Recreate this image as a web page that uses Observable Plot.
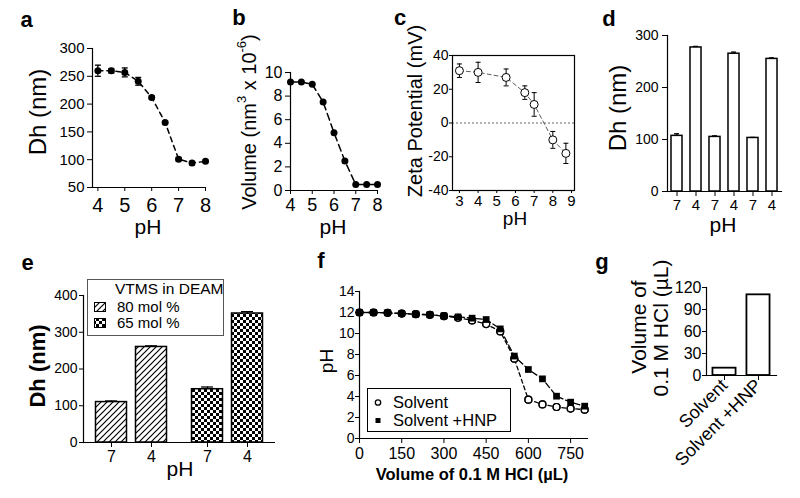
<!DOCTYPE html>
<html><head><meta charset="utf-8">
<script src="https://cdn.jsdelivr.net/npm/d3@7"></script>
<script src="https://cdn.jsdelivr.net/npm/@observablehq/plot@0.6"></script>
<style>
body{margin:0;background:#fff;}
#root{position:relative;width:800px;height:498px;overflow:hidden;background:#fff;font-family:"Liberation Sans",Arial,sans-serif;}
#root > svg{position:absolute;}
</style></head><body><div id="root"></div>
<script>
// ---------- data ----------
const aPH = [4, 4.5, 5, 5.5, 6, 6.5, 7, 7.5, 8];
const aDh = [260, 260, 257, 241, 212, 167, 101, 94, 97];
const aErr = [10, 4, 8, 7, 3, 2, 3, 3, 2];
const aYTicks = [50, 100, 150, 200, 250, 300];
const aXTicks = [4, 5, 6, 7, 8];

const bPH = [4, 4.5, 5, 5.5, 6, 6.5, 7, 7.5, 8];
const bVol = [9.2, 9.2, 9.0, 7.5, 4.9, 2.5, 0.5, 0.5, 0.5];
const bYTicks = [0, 2, 4, 6, 8, 10];
const bXTicks = [4, 5, 6, 7, 8];

const cPH = [3, 4, 5.5, 6.5, 7, 8, 8.7];
const cZeta = [31, 30, 27, 18, 11, -10, -18];
const cErr = [4, 6, 5, 4, 7, 5, 6];
const cYTicks = [-40, -20, 0, 20, 40];
const cXTicks = [3, 4, 5, 6, 7, 8, 9];

const dPH = ["7", "4", "7", "4", "7", "4"];
const dDh = [107, 277, 105, 265, 103, 255];
const dErr = [4, 2, 2, 3, 1, 2];
const dYTicks = [0, 100, 200, 300];

const eGroups = ["80 mol %", "65 mol %"];
const ePH = ["7", "4"];
const eDh80 = [110, 260];
const eDh65 = [145, 351];
const eErr80 = [3, 3];
const eErr65 = [6, 5];
const eYTicks = [0, 100, 200, 300, 400];

const fVol = [0, 50, 100, 150, 200, 250, 300, 350, 400, 450, 500, 550, 600, 650, 700, 750, 800];
const fSolvent = [12.0, 12.0, 11.97, 11.9, 11.84, 11.78, 11.65, 11.5, 11.25, 10.9, 10.2, 7.6, 3.7, 3.25, 3.0, 2.85, 2.75];
const fHNP = [12.0, 12.0, 11.97, 11.9, 11.84, 11.78, 11.68, 11.58, 11.46, 11.33, 10.44, 7.85, 6.57, 5.68, 4.03, 3.46, 3.08];
const fYTicks = [0, 2, 4, 6, 8, 10, 12, 14];
const fXTicks = [0, 150, 300, 450, 600, 750];

const gCat = ["Solvent", "Solvent +HNP"];
const gVol = [10, 110];
const gYTicks = [0, 30, 60, 90, 120];

// ---------- helpers ----------
const FONT = '"Liberation Sans", Arial, sans-serif';
const root = document.getElementById("root");
const fmt = d => String(d);
const capSym = {draw(ctx, size) { const w = Math.sqrt(size / Math.PI); ctx.moveTo(-w, 0); ctx.lineTo(w, 0); }};
function base(o) {
  return Object.assign({style: {fontFamily: FONT, fontSize: "14px", background: "none", overflow: "visible", color: "#000"}}, o);
}
function place(el, left, top) { el.style.left = left + "px"; el.style.top = top + "px"; root.append(el); }

// ---------- panel a ----------
const aData = aPH.map((x, i) => ({x, y: aDh[i], lo: aDh[i] - aErr[i], hi: aDh[i] + aErr[i]}));
place(Plot.plot(base({
  width: 220, height: 240, marginLeft: 92, marginRight: 15, marginTop: 48, marginBottom: 53,
  x: {domain: [3.8, 8]}, y: {domain: [50, 300]},
  marks: [
    Plot.axisY({ticks: aYTicks, tickSize: 5, tickPadding: 3, fontSize: 15, label: null, tickFormat: fmt}),
    Plot.axisX({ticks: aXTicks, tickSize: 4, tickPadding: 6, fontSize: 20, label: null, tickFormat: fmt}),
    Plot.frame({anchor: "left", strokeWidth: 1.2}),
    Plot.frame({anchor: "bottom", strokeWidth: 1.2}),
    Plot.line(aData, {x: "x", y: "y", strokeWidth: 1.5, strokeDasharray: "5,4"}),
    Plot.ruleX(aData, {x: "x", y1: "lo", y2: "hi", strokeWidth: 1.3}),
    Plot.dot(aData, {x: "x", y: "hi", symbol: capSym, r: 3, stroke: "black", fill: "none", strokeWidth: 1.3}),
    Plot.dot(aData, {x: "x", y: "lo", symbol: capSym, r: 3, stroke: "black", fill: "none", strokeWidth: 1.3}),
    Plot.dot(aData, {x: "x", y: "y", r: 3.5, fill: "black"})
  ]
})), 0, 0);

// ---------- panel b ----------
const bData = bPH.map((x, i) => ({x, y: bVol[i]}));
place(Plot.plot(base({
  width: 160, height: 240, marginLeft: 70, marginRight: 3, marginTop: 72, marginBottom: 50,
  x: {domain: [4, 8]}, y: {domain: [0, 10]},
  marks: [
    Plot.axisY({ticks: bYTicks, tickSize: 5, tickPadding: 3, fontSize: 16, label: null, tickFormat: fmt}),
    Plot.axisX({ticks: bXTicks, tickSize: 4, tickPadding: 4, fontSize: 18, label: null, tickFormat: fmt}),
    Plot.frame({anchor: "left", strokeWidth: 1.2}),
    Plot.frame({anchor: "bottom", strokeWidth: 1.2}),
    Plot.line(bData, {x: "x", y: "y", strokeWidth: 1.5, strokeDasharray: "7,4"}),
    Plot.dot(bData, {x: "x", y: "y", r: 3.5, fill: "black"})
  ]
})), 220, 0);

// ---------- panel c ----------
const cData = cPH.map((x, i) => ({x, y: cZeta[i], lo: cZeta[i] - cErr[i], hi: cZeta[i] + cErr[i]}));
place(Plot.plot(base({
  width: 210, height: 240, marginLeft: 72, marginRight: 16, marginTop: 55, marginBottom: 50,
  x: {domain: [2.63, 9.16]}, y: {domain: [-40, 40]},
  marks: [
    Plot.axisY({ticks: cYTicks, tickSize: 3, tickPadding: 1, fontSize: 14, label: null, tickFormat: fmt}),
    Plot.axisX({ticks: cXTicks, tickSize: 3, tickPadding: 2, fontSize: 15, label: null, tickFormat: fmt}),
    Plot.ruleY([0], {stroke: "#666", strokeWidth: 1, strokeDasharray: "2,2"}),
    Plot.frame({strokeWidth: 1.2}),
    Plot.line(cData, {x: "x", y: "y", stroke: "#333", strokeWidth: 0.8, strokeDasharray: "4,3"}),
    Plot.ruleX(cData, {x: "x", y1: "lo", y2: "hi", strokeWidth: 1}),
    Plot.dot(cData, {x: "x", y: "hi", symbol: capSym, r: 2.5, stroke: "black", fill: "none", strokeWidth: 1}),
    Plot.dot(cData, {x: "x", y: "lo", symbol: capSym, r: 2.5, stroke: "black", fill: "none", strokeWidth: 1}),
    Plot.dot(cData, {x: "x", y: "y", r: 4, fill: "white", stroke: "black", strokeWidth: 1})
  ]
})), 380, 0);

// ---------- panel d ----------
const dData = dDh.map((v, i) => ({i, v, hi: v + dErr[i]}));
place(Plot.plot(base({
  width: 210, height: 240, marginLeft: 77, marginRight: 19, marginTop: 35, marginBottom: 49,
  x: {domain: d3.range(dPH.length), paddingInner: 0.42, paddingOuter: 0.21, round: false},
  y: {domain: [0, 300]},
  marks: [
    Plot.axisY({ticks: dYTicks, tickSize: 5, tickPadding: 4, fontSize: 14, label: null, tickFormat: fmt}),
    Plot.axisX({tickSize: 5, tickPadding: 3, fontSize: 15, label: null, tickFormat: i => dPH[i]}),
    Plot.barY(dData, {x: "i", y: "v", fill: "white", stroke: "black", strokeWidth: 1.5}),
    Plot.ruleX(dData, {x: "i", y1: "v", y2: "hi", strokeWidth: 1.3}),
    Plot.tickY(dData, {x: "i", y: "hi", inset: 3, strokeWidth: 1.3}),
    Plot.frame({anchor: "left", strokeWidth: 1.2}),
    Plot.frame({anchor: "bottom", strokeWidth: 1.2})
  ]
})), 590, 0);

// ---------- panel e ----------
const eData = [];
eGroups.forEach((g, gi) => ePH.forEach((ph, j) => {
  const v = gi === 0 ? eDh80[j] : eDh65[j];
  const err = gi === 0 ? eErr80[j] : eErr65[j];
  eData.push({g, ph, v, hi: v + err});
}));
place(Plot.plot(base({
  width: 300, height: 253, marginLeft: 83, marginRight: 25, marginTop: 50, marginBottom: 56,
  fx: {domain: eGroups, padding: 0, axis: null, round: false},
  x: {domain: ePH, paddingInner: 0.225, paddingOuter: 0.3125, round: false},
  y: {domain: [0, 400]},
  marks: [
    Plot.axisY({ticks: eYTicks, tickSize: 4, tickPadding: 2, fontSize: 14, label: null, tickFormat: fmt}),
    Plot.axisX({tickSize: 5, tickPadding: 3, fontSize: 16, label: null}),
    Plot.barY(eData.filter(d => d.g === eGroups[0]), {fx: "g", x: "ph", y: "v", fill: "url(#hatch)", stroke: "black", strokeWidth: 1.5}),
    Plot.barY(eData.filter(d => d.g === eGroups[1]), {fx: "g", x: "ph", y: "v", fill: "url(#checker)", stroke: "black", strokeWidth: 1.5}),
    Plot.ruleX(eData, {fx: "g", x: "ph", y1: "v", y2: "hi", strokeWidth: 1.3}),
    Plot.tickY(eData, {fx: "g", x: "ph", y: "hi", inset: 9.5, strokeWidth: 1.3}),
    Plot.ruleY([0], {strokeWidth: 1.2}),
    Plot.frame({anchor: "left", facetAnchor: "left", strokeWidth: 1.2})
  ]
})), 0, 245);

// ---------- panel f ----------
const fS = fVol.map((x, i) => ({x, y: fSolvent[i]}));
const fH = fVol.map((x, i) => ({x, y: fHNP[i]}));
place(Plot.plot(base({
  width: 300, height: 253, marginLeft: 59, marginRight: 13, marginTop: 46, marginBottom: 60,
  x: {domain: [0, 810]}, y: {domain: [0, 14]},
  marks: [
    Plot.axisY({ticks: fYTicks, tickSize: 4, tickPadding: 1, fontSize: 14, label: null, tickFormat: fmt}),
    Plot.axisX({ticks: fXTicks, tickSize: 5, tickPadding: 4, fontSize: 16, label: null, tickFormat: fmt}),
    Plot.frame({anchor: "left", strokeWidth: 1.2}),
    Plot.frame({anchor: "bottom", strokeWidth: 1.2}),
    Plot.line(fH, {x: "x", y: "y", strokeWidth: 1.3, strokeDasharray: "6,3"}),
    Plot.line(fS, {x: "x", y: "y", strokeWidth: 1.3, strokeDasharray: "4,3"}),
    Plot.dot(fS, {x: "x", y: "y", r: 3.5, fill: "white", stroke: "black", strokeWidth: 1.2}),
    Plot.dot(fH, {x: "x", y: "y", r: 3.8, symbol: "square", fill: "black"}),
    Plot.dot(fS, {x: "x", y: "y", r: 3.5, fill: "none", stroke: "black", strokeWidth: 1.2})
  ]
})), 300, 245);

// ---------- panel g ----------
const gData = gCat.map((c, i) => ({c, v: gVol[i]}));
place(Plot.plot(base({
  width: 200, height: 253, marginLeft: 106, marginRight: 24, marginTop: 42, marginBottom: 123,
  x: {domain: gCat, paddingInner: 0.32, paddingOuter: 0.19, round: false},
  y: {domain: [0, 120]},
  marks: [
    Plot.axisY({ticks: gYTicks, tickSize: 4, tickPadding: 1, fontSize: 16, label: null, tickFormat: fmt}),
    Plot.axisX({tickSize: 5, tickPadding: 2, fontSize: 18, tickRotate: -45, label: null}),
    Plot.barY(gData, {x: "c", y: "v", fill: "white", stroke: "black", strokeWidth: 1.8}),
    Plot.frame({anchor: "left", strokeWidth: 1.2}),
    Plot.frame({anchor: "bottom", strokeWidth: 1.2})
  ]
})), 600, 245);

// ---------- overlay: patterns, titles, legends ----------
const ov = d3.select(root).append("svg")
  .attr("width", 800).attr("height", 498)
  .style("left", "0px").style("top", "0px").style("pointer-events", "none")
  .style("font-family", FONT).style("overflow", "visible");
const defs = ov.append("defs");
const hatch = defs.append("pattern").attr("id", "hatch").attr("patternUnits", "userSpaceOnUse").attr("width", 6).attr("height", 6);
hatch.append("rect").attr("width", 6).attr("height", 6).attr("fill", "white");
hatch.append("path").attr("d", "M-1,1 l2,-2 M0,6 l6,-6 M5,7 l2,-2").attr("stroke", "black").attr("stroke-width", 1.2);
const checker = defs.append("pattern").attr("id", "checker").attr("patternUnits", "userSpaceOnUse").attr("width", 6).attr("height", 6);
checker.append("rect").attr("width", 6).attr("height", 6).attr("fill", "white");
checker.append("rect").attr("width", 3).attr("height", 3).attr("fill", "black");
checker.append("rect").attr("x", 3).attr("y", 3).attr("width", 3).attr("height", 3).attr("fill", "black");

function txt(s, x, y, o = {}) {
  const t = ov.append("text").attr("x", x).attr("y", y)
    .attr("text-anchor", o.anchor || "middle")
    .attr("dominant-baseline", o.baseline || "central")
    .attr("font-size", o.size || 20)
    .attr("font-weight", o.weight || "normal")
    .attr("fill", "black");
  if (o.rotate) t.attr("transform", `rotate(${o.rotate},${x},${y})`);
  if (s !== null) t.text(s);
  return t;
}

// panel letters
[["a", 26.5, 27], ["b", 239, 25], ["c", 400, 25], ["d", 609, 26], ["e", 27.5, 270], ["f", 321, 268], ["g", 602, 269]]
  .forEach(([s, x, y]) => txt(s, x, y, {size: 22, weight: "bold", baseline: "alphabetic"}));

// axis titles
txt("Dh (nm)", 37, 112, {size: 24, rotate: -90});
txt("pH", 148, 226, {size: 21});
const bt = txt(null, 249, 122, {size: 20, rotate: -90});
bt.append("tspan").text("Volume (nm");
bt.append("tspan").attr("baseline-shift", "super").attr("font-size", 13).text("3");
bt.append("tspan").text(" x 10");
bt.append("tspan").attr("baseline-shift", "super").attr("font-size", 13).text("-6");
bt.append("tspan").text(")");
txt("pH", 333, 226, {size: 21});
txt("Zeta Potential (mV)", 415, 111, {size: 20, rotate: -90});
txt("pH", 515, 218, {size: 19});
txt("Dh (nm)", 617, 108, {size: 24, rotate: -90});
txt("pH", 723, 224, {size: 21});
txt("Dh (nm)", 37, 366, {size: 22, weight: "bold", rotate: -90});
txt("pH", 180, 468, {size: 21});
txt("pH", 326, 361, {size: 19, rotate: -90});
txt("Volume of 0.1 M HCl (µL)", 472, 474, {size: 16.5, weight: "bold"});
txt("Volume of", 638, 327, {size: 21, rotate: -90});
txt("0.1 M HCl (µL)", 660, 328, {size: 21, rotate: -90});

// legend e
ov.append("rect").attr("x", 87.5).attr("y", 279.5).attr("width", 136).attr("height", 56)
  .attr("fill", "white").attr("stroke", "#555").attr("stroke-width", 1);
txt("VTMS in DEAM", 115, 294, {size: 15.5, anchor: "start", baseline: "alphabetic"});
ov.append("rect").attr("x", 94.5).attr("y", 302.5).attr("width", 11).attr("height", 9)
  .attr("fill", "url(#hatch)").attr("stroke", "black").attr("stroke-width", 1);
ov.append("rect").attr("x", 94.5).attr("y", 318.5).attr("width", 11).attr("height", 9)
  .attr("fill", "url(#checker)").attr("stroke", "black").attr("stroke-width", 1);
txt(eGroups[0], 117, 311.5, {size: 15, anchor: "start", baseline: "alphabetic"});
txt(eGroups[1], 117, 327.5, {size: 15, anchor: "start", baseline: "alphabetic"});

// legend f
ov.append("rect").attr("x", 367.5).attr("y", 388.5).attr("width", 143).attr("height", 43)
  .attr("fill", "white").attr("stroke", "black").attr("stroke-width", 1);
ov.append("circle").attr("cx", 378).attr("cy", 402.5).attr("r", 2.7)
  .attr("fill", "white").attr("stroke", "black").attr("stroke-width", 1.3);
ov.append("rect").attr("x", 375.5).attr("y", 418).attr("width", 5).attr("height", 5).attr("fill", "black");
txt("Solvent", 393, 407.5, {size: 16.5, anchor: "start", baseline: "alphabetic"});
txt("Solvent +HNP", 393, 426, {size: 16.5, anchor: "start", baseline: "alphabetic"});
</script>
</body></html>
